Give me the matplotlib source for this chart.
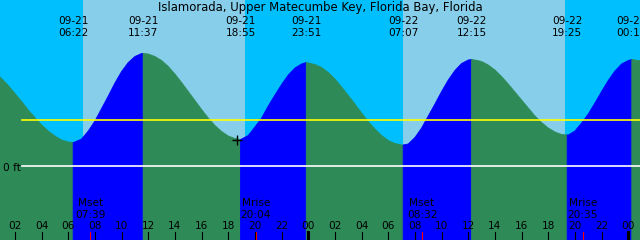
import matplotlib
matplotlib.use("Agg")
import matplotlib.pyplot as plt
import matplotlib.transforms as mtransforms

title = "Islamorada, Upper Matecumbe Key, Florida Bay, Florida"

# water level every half hour after 09-21 00:00, in feet
hours = [h / 2 for h in range(0, 99)]
level_ft = [1.97, 1.87, 1.75, 1.61, 1.45, 1.29, 1.12, 0.97, 0.82, 0.70,
            0.60, 0.52, 0.48, 0.48, 0.54, 0.70, 0.90, 1.15, 1.40, 1.66,
            1.89, 2.07, 2.19, 2.25, 2.24, 2.19, 2.11, 1.99, 1.84, 1.67,
            1.49, 1.31, 1.13, 0.96, 0.81, 0.69, 0.60, 0.55, 0.54, 0.61,
            0.78, 0.96, 1.20, 1.42, 1.63, 1.82, 1.96, 2.04, 2.06, 2.03,
            1.97, 1.87, 1.74, 1.58, 1.41, 1.24, 1.06, 0.89, 0.74, 0.61,
            0.51, 0.45, 0.42, 0.44, 0.57, 0.76, 1.00, 1.24, 1.49, 1.72,
            1.91, 2.05, 2.12, 2.12, 2.09, 2.02, 1.92, 1.79, 1.64, 1.48,
            1.32, 1.16, 1.00, 0.87, 0.76, 0.68, 0.63, 0.62, 0.70, 0.86,
            1.04, 1.26, 1.49, 1.71, 1.90, 2.04, 2.11, 2.12, 2.10]

# high / low tide events
event_dates = ["09-21", "09-21", "09-21", "09-21", "09-22", "09-22", "09-22", "09-23"]
event_times = ["06:22", "11:37", "18:55", "23:51", "07:07", "12:15", "19:25", "00:16"]
event_ft = [0.47, 2.25, 0.53, 2.07, 0.42, 2.13, 0.62, 2.13]

# moon events
moon_names = ["Mset", "Mrise", "Mset", "Mrise"]
moon_dates = ["09-21", "09-21", "09-22", "09-22"]
moon_times = ["07:39", "20:04", "08:32", "20:35"]

# daylight
sunrise = [("09-21", "07:05"), ("09-22", "07:05")]
sunset = [("09-21", "19:16"), ("09-22", "19:16")]

mean_level = 0.92
now_time = ("09-21", "18:41")
now_level = 0.53


def to_hours(date, hm):
    day = int(date.split("-")[1]) - 21
    h, m = hm.split(":")
    return day * 24 + int(h) + int(m) / 60


start = 0.88
fig = plt.figure(figsize=(6.4, 2.4), dpi=100)
ax = fig.add_axes([0, 0, 1, 1])
ax.set_axis_off()
ax.set_xlim(start, start + 48)
ax.set_ylim(-1.48, 3.32)

# sky: night then daylight
ax.axvspan(start - 1, start + 49, color="#00BFFF", lw=0)
for (d1, t1), (d2, t2) in zip(sunrise, sunset):
    ax.axvspan(to_hours(d1, t1), to_hours(d2, t2), color="#87CEEB", lw=0)

# water: merge the readings with the extremes, colour rising / falling
ev_h = [to_hours(d, t) for d, t in zip(event_dates, event_times)]
pts = sorted(list(zip(hours, level_ft)) + list(zip(ev_h, event_ft)))
xs = [p[0] for p in pts]
ys = [p[1] for p in pts]
cuts = [0] + [xs.index(e) for e in ev_h] + [len(xs) - 1]
for a, b in zip(cuts[:-1], cuts[1:]):
    seg_x = xs[a:b + 1]
    seg_y = ys[a:b + 1]
    col = "#0000FF" if seg_y[-1] > seg_y[0] else "#2E8B57"
    ax.fill_between(seg_x, -5, seg_y, color=col, lw=0.6, ec=col)

# datum and mean level lines
ax.axhline(mean_level, xmin=22 / 640, color="yellow", lw=1.2)
ax.axhline(0, xmin=22 / 640, color="white", lw=1.2)

tr = mtransforms.blended_transform_factory(ax.transData, ax.transAxes)
fs = 7.6


def py(y):
    return 1 - y / 240


ax.text(0.005, py(171), "0 ft", transform=ax.transAxes, fontsize=fs, va="baseline")
ax.text(0.5, py(10.5), title, transform=ax.transAxes, fontsize=8.4, ha="center", va="baseline")

for d, t, x in zip(event_dates, event_times, ev_h):
    ax.text(x, py(24), d, transform=tr, fontsize=fs, ha="center", va="baseline")
    ax.text(x, py(35.5), t, transform=tr, fontsize=fs, ha="center", va="baseline")

for n, d, t in zip(moon_names, moon_dates, moon_times):
    x = to_hours(d, t)
    ax.text(x, py(206.5), n, transform=tr, fontsize=fs, ha="center", va="baseline")
    ax.text(x, py(217.5), t, transform=tr, fontsize=fs, ha="center", va="baseline")
    ax.plot([x, x], [py(232), 0], transform=tr, color="red", lw=0.8)

# hour axis
for h in range(2, 49, 2):
    ax.text(h, py(229.3), "%02d" % (h % 24), transform=tr, fontsize=fs,
            ha="center", va="baseline")
    ax.plot([h, h], [py(232), 0], transform=tr, color="black",
            lw=2.2 if h % 24 == 0 else 0.8)

ax.plot(to_hours(*now_time), now_level, marker="+", color="black", ms=7, mew=1)

fig.savefig("out.png", dpi=100)
